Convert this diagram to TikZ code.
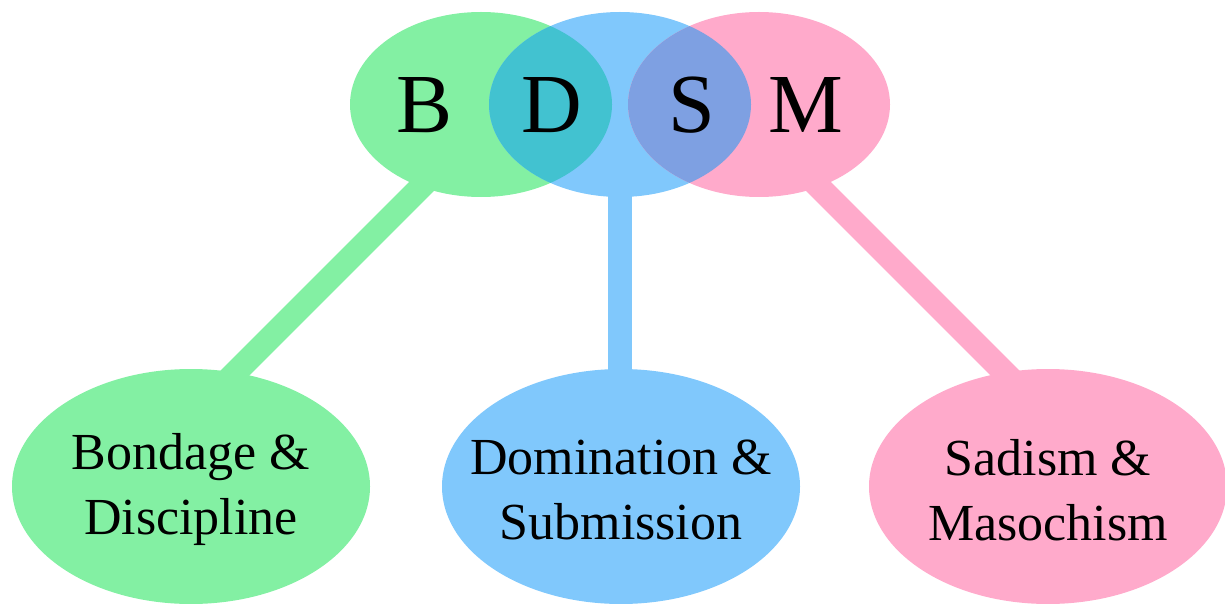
\documentclass[tikz,border=0pt]{standalone}
\usepackage{fontspec}
\setmainfont{Liberation Serif}
\usetikzlibrary{shapes.geometric,calc}
\definecolor{cgreen}{RGB}{131,240,163}
\definecolor{cblue}{RGB}{128,200,252}
\definecolor{cpink}{RGB}{255,170,203}
\definecolor{cteal}{RGB}{66,194,208}
\definecolor{cviolet}{RGB}{126,160,226}
\tikzset{
  topell/.style={ellipse, draw=none, inner sep=0pt, minimum width=262pt, minimum height=185pt},
  botell/.style={ellipse, draw=none, inner sep=0pt, minimum width=358pt, minimum height=235pt},
  bigletter/.style={anchor=base, inner sep=0pt, font=\fontsize{84}{90}\selectfont},
  label/.style={align=center, inner sep=0pt, font=\fontsize{52}{65}\selectfont},
  stem/.style={line width=24pt, line cap=butt}
}
\begin{document}
\begin{tikzpicture}[x=1pt,y=-1pt]
\useasboundingbox (0,0) rectangle (1225,604);
\coordinate (gc) at (481,104.5);
\coordinate (bc) at (620,104.5);
\coordinate (pc) at (759,104.5);
% bottom ellipses
\node[botell, fill=cgreen] (gbot) at (191,486.5) {};
\node[botell, fill=cblue] (bbot) at (621,486.5) {};
\node[botell, fill=cpink] (pbot) at (1048,486.5) {};
% stems (connectors)
\coordinate (gs1) at (450,158);
\coordinate (gs2) at (210,398);
\coordinate (bs1) at (620,170);
\coordinate (bs2) at (620,395);
\coordinate (ps1) at (790,158);
\coordinate (ps2) at (1030,398);
\draw[stem, cgreen] (gs1) -- (gs2);
\draw[stem, cblue] (bs1) -- (bs2);
\draw[stem, cpink] (ps1) -- (ps2);
% top ellipses
\node[topell, fill=cgreen] (gtop) at (gc) {};
\node[topell, fill=cblue] (btop) at (bc) {};
\node[topell, fill=cpink] (ptop) at (pc) {};
% lenses
\begin{scope}
  \clip (gtop.center) ellipse [x radius=131pt, y radius=92.5pt];
  \fill[cteal] (btop.center) ellipse [x radius=131pt, y radius=92.5pt];
\end{scope}
\begin{scope}
  \clip (ptop.center) ellipse [x radius=131pt, y radius=92.5pt];
  \fill[cviolet] (btop.center) ellipse [x radius=131pt, y radius=92.5pt];
\end{scope}
% letters
\node[bigletter] (lB) at (425,133) {B};
\node[bigletter] (lD) at (552,133) {D};
\node[bigletter] (lS) at (692,133) {S};
\node[bigletter] (lM) at (806,133) {M};
% labels
\node[label, yshift=-3pt] (tg) at (gbot.center) {Bondage \&\\Discipline};
\node[label, yshift=-3pt] (tb) at (bbot.center) {Domination \&\\Submission};
\node[label, yshift=-4pt] (tp) at (pbot.center) {Sadism \&\\Masochism};
\end{tikzpicture}
\end{document}
